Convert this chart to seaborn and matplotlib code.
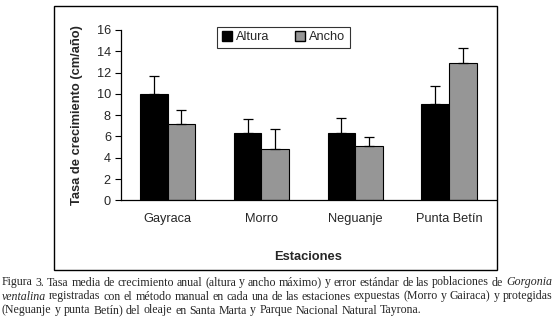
import matplotlib
matplotlib.use("Agg")
import matplotlib.pyplot as plt
import seaborn as sns
import pandas as pd
import numpy as np
from matplotlib.patches import Rectangle
from matplotlib.lines import Line2D

estaciones = ["Gayraca", "Morro", "Neguanje", "Punta Betín"]
series = ["Altura", "Ancho"]
altura = [10.0, 6.3, 6.3, 9.05]
ancho = [7.2, 4.8, 5.1, 12.9]
altura_err = [1.65, 1.3, 1.4, 1.65]
ancho_err = [1.25, 1.9, 0.85, 1.4]
yticks = [0, 2, 4, 6, 8, 10, 12, 14, 16]
colors = ["#000000", "#969696"]

df = pd.DataFrame({
    "Estacion": estaciones * 2,
    "Serie": [series[0]] * 4 + [series[1]] * 4,
    "Valor": altura + ancho,
})
errs = [altura_err, ancho_err]

sns.set_style("white")
plt.rcParams["font.family"] = ["Liberation Sans", "DejaVu Sans"]

fig = plt.figure(figsize=(5.54, 3.18), dpi=100)
W, H = 554, 318
x0, x1, y0, y1 = 120.7, 496.0, 200.3, 30.0
ax = fig.add_axes([x0 / W, 1 - y0 / H, (x1 - x0) / W, (y0 - y1) / H])

sns.barplot(data=df, x="Estacion", y="Valor", hue="Serie", order=estaciones,
            hue_order=series, palette=colors, width=0.59, errorbar=None,
            edgecolor="black", linewidth=0.8, saturation=1, ax=ax, legend=False)

for cont, e in zip(ax.containers, errs):
    xs = [p.get_x() + p.get_width() / 2 for p in cont.patches]
    hs = [p.get_height() for p in cont.patches]
    ax.errorbar(xs, hs, yerr=[np.zeros(len(e)), e], fmt="none", ecolor="black",
                elinewidth=0.9, capsize=3.6, capthick=0.9, zorder=1)

ax.set_ylim(0, 16)
ax.set_xlim(-0.5, 3.5)
ax.set_yticks(yticks)
ax.set_yticklabels([str(t) for t in yticks], fontsize=9.2)
ax.set_xticks(range(4))
ax.set_xticklabels(estaciones, fontsize=9.2)
ax.set_xticks(np.arange(-0.5, 4.0, 1.0), minor=True)
ax.tick_params(axis="x", which="major", length=0, pad=9)
ax.tick_params(axis="x", which="minor", length=3, width=0.8, color="black", direction="out")
ax.tick_params(axis="y", length=4, width=0.8, color="black", direction="out", pad=3, left=True)
for s in ["top", "right"]:
    ax.spines[s].set_visible(False)
for s in ["left", "bottom"]:
    ax.spines[s].set_color("black")
    ax.spines[s].set_linewidth(0.9)

ax.set_ylabel("Tasa de crecimiento (cm/año)", fontsize=9.3, fontweight="bold")
ax.yaxis.set_label_coords((83 - x0) / (x1 - x0), 0.5)
ax.set_xlabel("Estaciones", fontsize=9.3, fontweight="bold")
ax.xaxis.set_label_coords(0.5, (y0 - 250.5) / (y0 - y1))

handles = [Line2D([], [], marker="s", linestyle="none", markerfacecolor=c,
                  markeredgecolor="black", markersize=7) for c in colors]
leg = fig.legend(handles, series, ncol=2, loc="center",
                 bbox_to_anchor=(283.5 / W, 1 - 37.5 / H), frameon=True,
                 fontsize=9.2, handlelength=0.8, handletextpad=0.3,
                 columnspacing=2.0, borderpad=0.35, fancybox=False)
leg.get_frame().set_edgecolor("black")
leg.get_frame().set_linewidth(0.8)

fig.patches.append(Rectangle((54 / W, 1 - 269.5 / H), (496.7 - 54) / W, (269.5 - 6) / H,
                             transform=fig.transFigure, fill=False,
                             edgecolor="black", linewidth=1.0))

# Caption (justified)
cap_lines = [
    [("Figura 3. Tasa media de crecimiento anual (altura y ancho máximo) y error estándar de las poblaciones de", "normal"),
     ("Gorgonia", "italic")],
    [("ventalina", "italic"),
     ("registradas con el método manual en cada una de las estaciones expuestas (Morro y Gairaca) y protegidas", "normal")],
    [("(Neguanje y punta Betín) del oleaje en Santa Marta y Parque Nacional Natural Tayrona.", "normal")],
]
cap_fs = 8.6
fig.canvas.draw()
renderer = fig.canvas.get_renderer()
left_px, right_px = 2, 552
line_ys = [285.5, 299.5, 313.5]
for li, (segs, ly) in enumerate(zip(cap_lines, line_ys)):
    words = []
    for txt, style in segs:
        for w in txt.split(" "):
            words.append((w, style))
    tobjs = []
    widths = []
    for w, style in words:
        t = fig.text(0, 1 - ly / H, w, fontsize=cap_fs, family="Liberation Serif",
                     style=style, va="baseline", ha="left")
        tobjs.append(t)
        widths.append(t.get_window_extent(renderer).width)
    if li < len(cap_lines) - 1:
        gap = (right_px - left_px - sum(widths)) / (len(words) - 1)
    else:
        sp = fig.text(0, 0, "a b", fontsize=cap_fs, family="Liberation Serif")
        ab = fig.text(0, 0, "ab", fontsize=cap_fs, family="Liberation Serif")
        gap = sp.get_window_extent(renderer).width - ab.get_window_extent(renderer).width
        sp.remove(); ab.remove()
    xpos = left_px
    for t, wd in zip(tobjs, widths):
        t.set_x(xpos / W)
        xpos += wd + gap

fig.savefig("out.png", dpi=100, facecolor="white")
